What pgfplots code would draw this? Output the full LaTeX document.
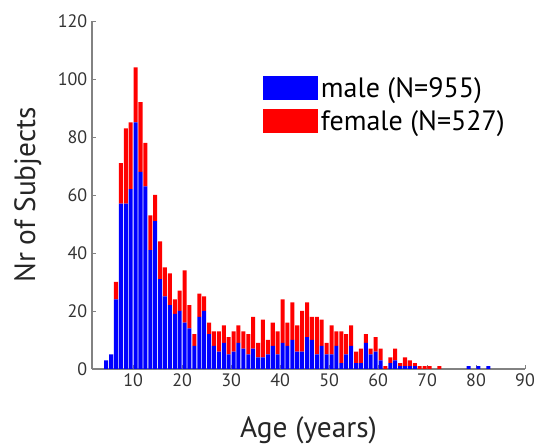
\documentclass[border=0pt]{standalone}
\usepackage{fontspec}
\setmainfont{PT Sans}
\usepackage{pgfplots}
\usepackage{pgfplotstable}
\pgfplotsset{compat=1.18}

\definecolor{mblue}{RGB}{0,0,255}
\definecolor{mred}{RGB}{255,0,0}
\definecolor{axgray}{RGB}{130,130,130}

% counts per one-year bin (bin starts at age)
\pgfplotstableread{
age male female
4 3 0
5 5 0
6 24 6
7 57 14
8 57 26
9 62 23
10 85 19
11 68 24
12 63 15
13 41 12
14 51 9
15 31 13
16 25 10
17 22 11
18 19 5
19 20 7
20 16 18
21 14 8
22 8 4
23 18 8
24 20 5
25 12 4
26 8 5
27 6 7
28 9 6
29 5 6
30 6 7
31 9 6
32 7 6
33 5 7
34 7 11
35 4 5
36 4 13
37 5 5
38 8 8
39 5 8
40 9 15
41 8 8
42 10 13
43 6 9
44 6 14
45 11 12
46 10 8
47 5 13
48 8 9
49 5 4
50 5 10
51 8 5
52 2 11
53 5 7
54 8 7
55 2 4
56 2 5
57 9 3
58 5 2
59 6 5
60 3 4
61 0 1
62 2 2
63 3 4
64 1 1
65 1 3
66 1 2
67 1 1
68 0 1
69 0 1
70 0 1
72 0 1
78 1 0
80 1 0
82 1 0
}\agedata

\begin{document}
\begin{tikzpicture}
\path[use as bounding box] (0,0) rectangle (405.75pt,333.75pt);
\begin{axis}[
    at={(69pt,57pt)}, anchor=south west,
    scale only axis,
    width=324.75pt, height=261pt,
    ybar stacked,
    bar width=0.82,
    xmin=1.6, xmax=90,
    ymin=0, ymax=120,
    xtick={10,20,...,90},
    ytick={0,20,...,120},
    axis x line*=bottom,
    axis y line*=left,
    axis line style={axgray, line width=0.8pt, -},
    tick align=inside,
    major tick length=3pt,
    tick style={axgray, line width=0.6pt},
    tick label style={font=\fontsize{13.5}{15}\selectfont, text=black!80},
    /pgf/number format/assume math mode=true,
    xlabel={Age (years)},
    ylabel={Nr of Subjects},
    label style={font=\fontsize{22}{25}\selectfont, text=black!85},
    xlabel style={at={(axis description cs:0.5,-0.175)}, anchor=center},
    ylabel style={at={(axis description cs:-0.148,0.5)}, anchor=center, rotate=0},
    legend style={at={(0.395,0.842)}, anchor=north west, draw=none, fill=none,
        font=\fontsize{21}{23}\selectfont, inner sep=0pt, row sep=6.75pt,
        column sep=2pt, nodes={inner sep=0pt, anchor=west}},
    legend cell align=left,
    legend image code/.code={\fill[#1, draw=none] (0pt,-9pt) rectangle (41.25pt,9pt);},
]
\addplot[fill=mblue, draw=none] table[x expr=\thisrow{age}+0.5, y=male] {\agedata};
\addlegendentry{male (N=955)}
\addplot[fill=mred, draw=none] table[x expr=\thisrow{age}+0.5, y=female] {\agedata};
\addlegendentry{female (N=527)}
\end{axis}
\end{tikzpicture}
\end{document}
